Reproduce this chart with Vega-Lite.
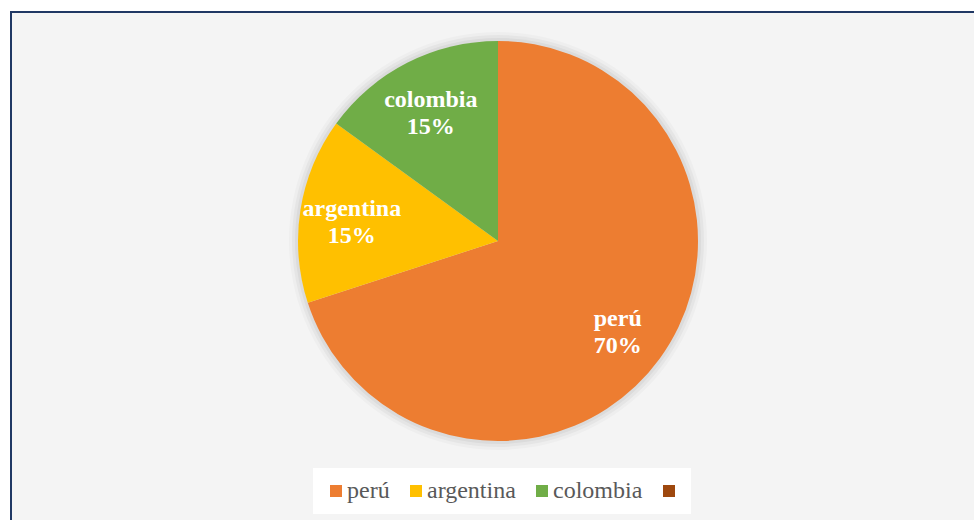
{
  "$schema": "https://vega.github.io/schema/vega-lite/v6.json",
  "width": 974,
  "height": 516,
  "autosize": {"type": "none"},
  "padding": {"left": 11, "top": 12, "right": 0, "bottom": 0},
  "background": "white",
  "view": {"stroke": "#203864", "strokeWidth": 2, "fill": "#f4f4f4"},
  "data": {"values": [
    {"pais": "perú", "porcentaje": 70, "orden": 1},
    {"pais": "argentina", "porcentaje": 15, "orden": 2},
    {"pais": "colombia", "porcentaje": 15, "orden": 3},
    {"pais": "", "porcentaje": 0, "orden": 4}
  ]},
  "layer": [
    {
      "data": {"values": [{"k": 1}]},
      "mark": {"type": "arc", "theta": 0, "theta2": 6.2832, "radius": 209, "fill": "black", "opacity": 0.025, "yOffset": -29},
      "encoding": {}
    },
    {
      "data": {"values": [{"k": 1}]},
      "mark": {"type": "arc", "theta": 0, "theta2": 6.2832, "radius": 206, "fill": "black", "opacity": 0.035, "yOffset": -29},
      "encoding": {}
    },
    {
      "data": {"values": [{"k": 1}]},
      "mark": {"type": "arc", "theta": 0, "theta2": 6.2832, "radius": 203, "fill": "black", "opacity": 0.045, "yOffset": -29},
      "encoding": {}
    },
    {
      "mark": {"type": "arc", "radius": 200, "yOffset": -29, "opacity": 1},
      "encoding": {
        "theta": {"field": "porcentaje", "type": "quantitative", "stack": true},
        "order": {"field": "orden", "type": "quantitative"},
        "color": {
          "field": "pais",
          "type": "nominal",
          "scale": {"domain": ["perú", "argentina", "colombia", ""], "range": ["#ED7D31", "#FFC000", "#70AD47", "#9E480E"]},
          "legend": {
            "orient": "none",
            "legendX": 302,
            "legendY": 456,
            "direction": "horizontal",
            "title": null,
            "fillColor": "white",
            "padding": 11,
            "symbolType": "square",
            "symbolSize": 144,
            "symbolStrokeWidth": 0,
            "symbolOpacity": 1,
            "labelFont": "Times New Roman, Liberation Serif, serif",
            "labelFontSize": 24,
            "labelColor": "#595959",
            "labelOffset": -1,
            "columnPadding": 14,
            "labelLimit": 300
          }
        }
      }
    },
    {
      "transform": [
        {"filter": "datum.porcentaje > 0"},
        {"calculate": "datum.pais + '\\n' + datum.porcentaje + '%'", "as": "etiqueta"}
      ],
      "mark": {"type": "text", "radius": 148, "yOffset": -29, "dy": -9, "font": "Times New Roman, Liberation Serif, serif", "fontWeight": "bold", "fontSize": 24, "lineHeight": 27, "lineBreak": "\n", "fill": "white", "align": "center", "baseline": "middle"},
      "encoding": {
        "theta": {"field": "porcentaje", "type": "quantitative", "stack": true},
        "order": {"field": "orden", "type": "quantitative"},
        "detail": {"field": "pais", "type": "nominal"},
        "text": {"field": "etiqueta", "type": "nominal"}
      }
    }
  ]
}
